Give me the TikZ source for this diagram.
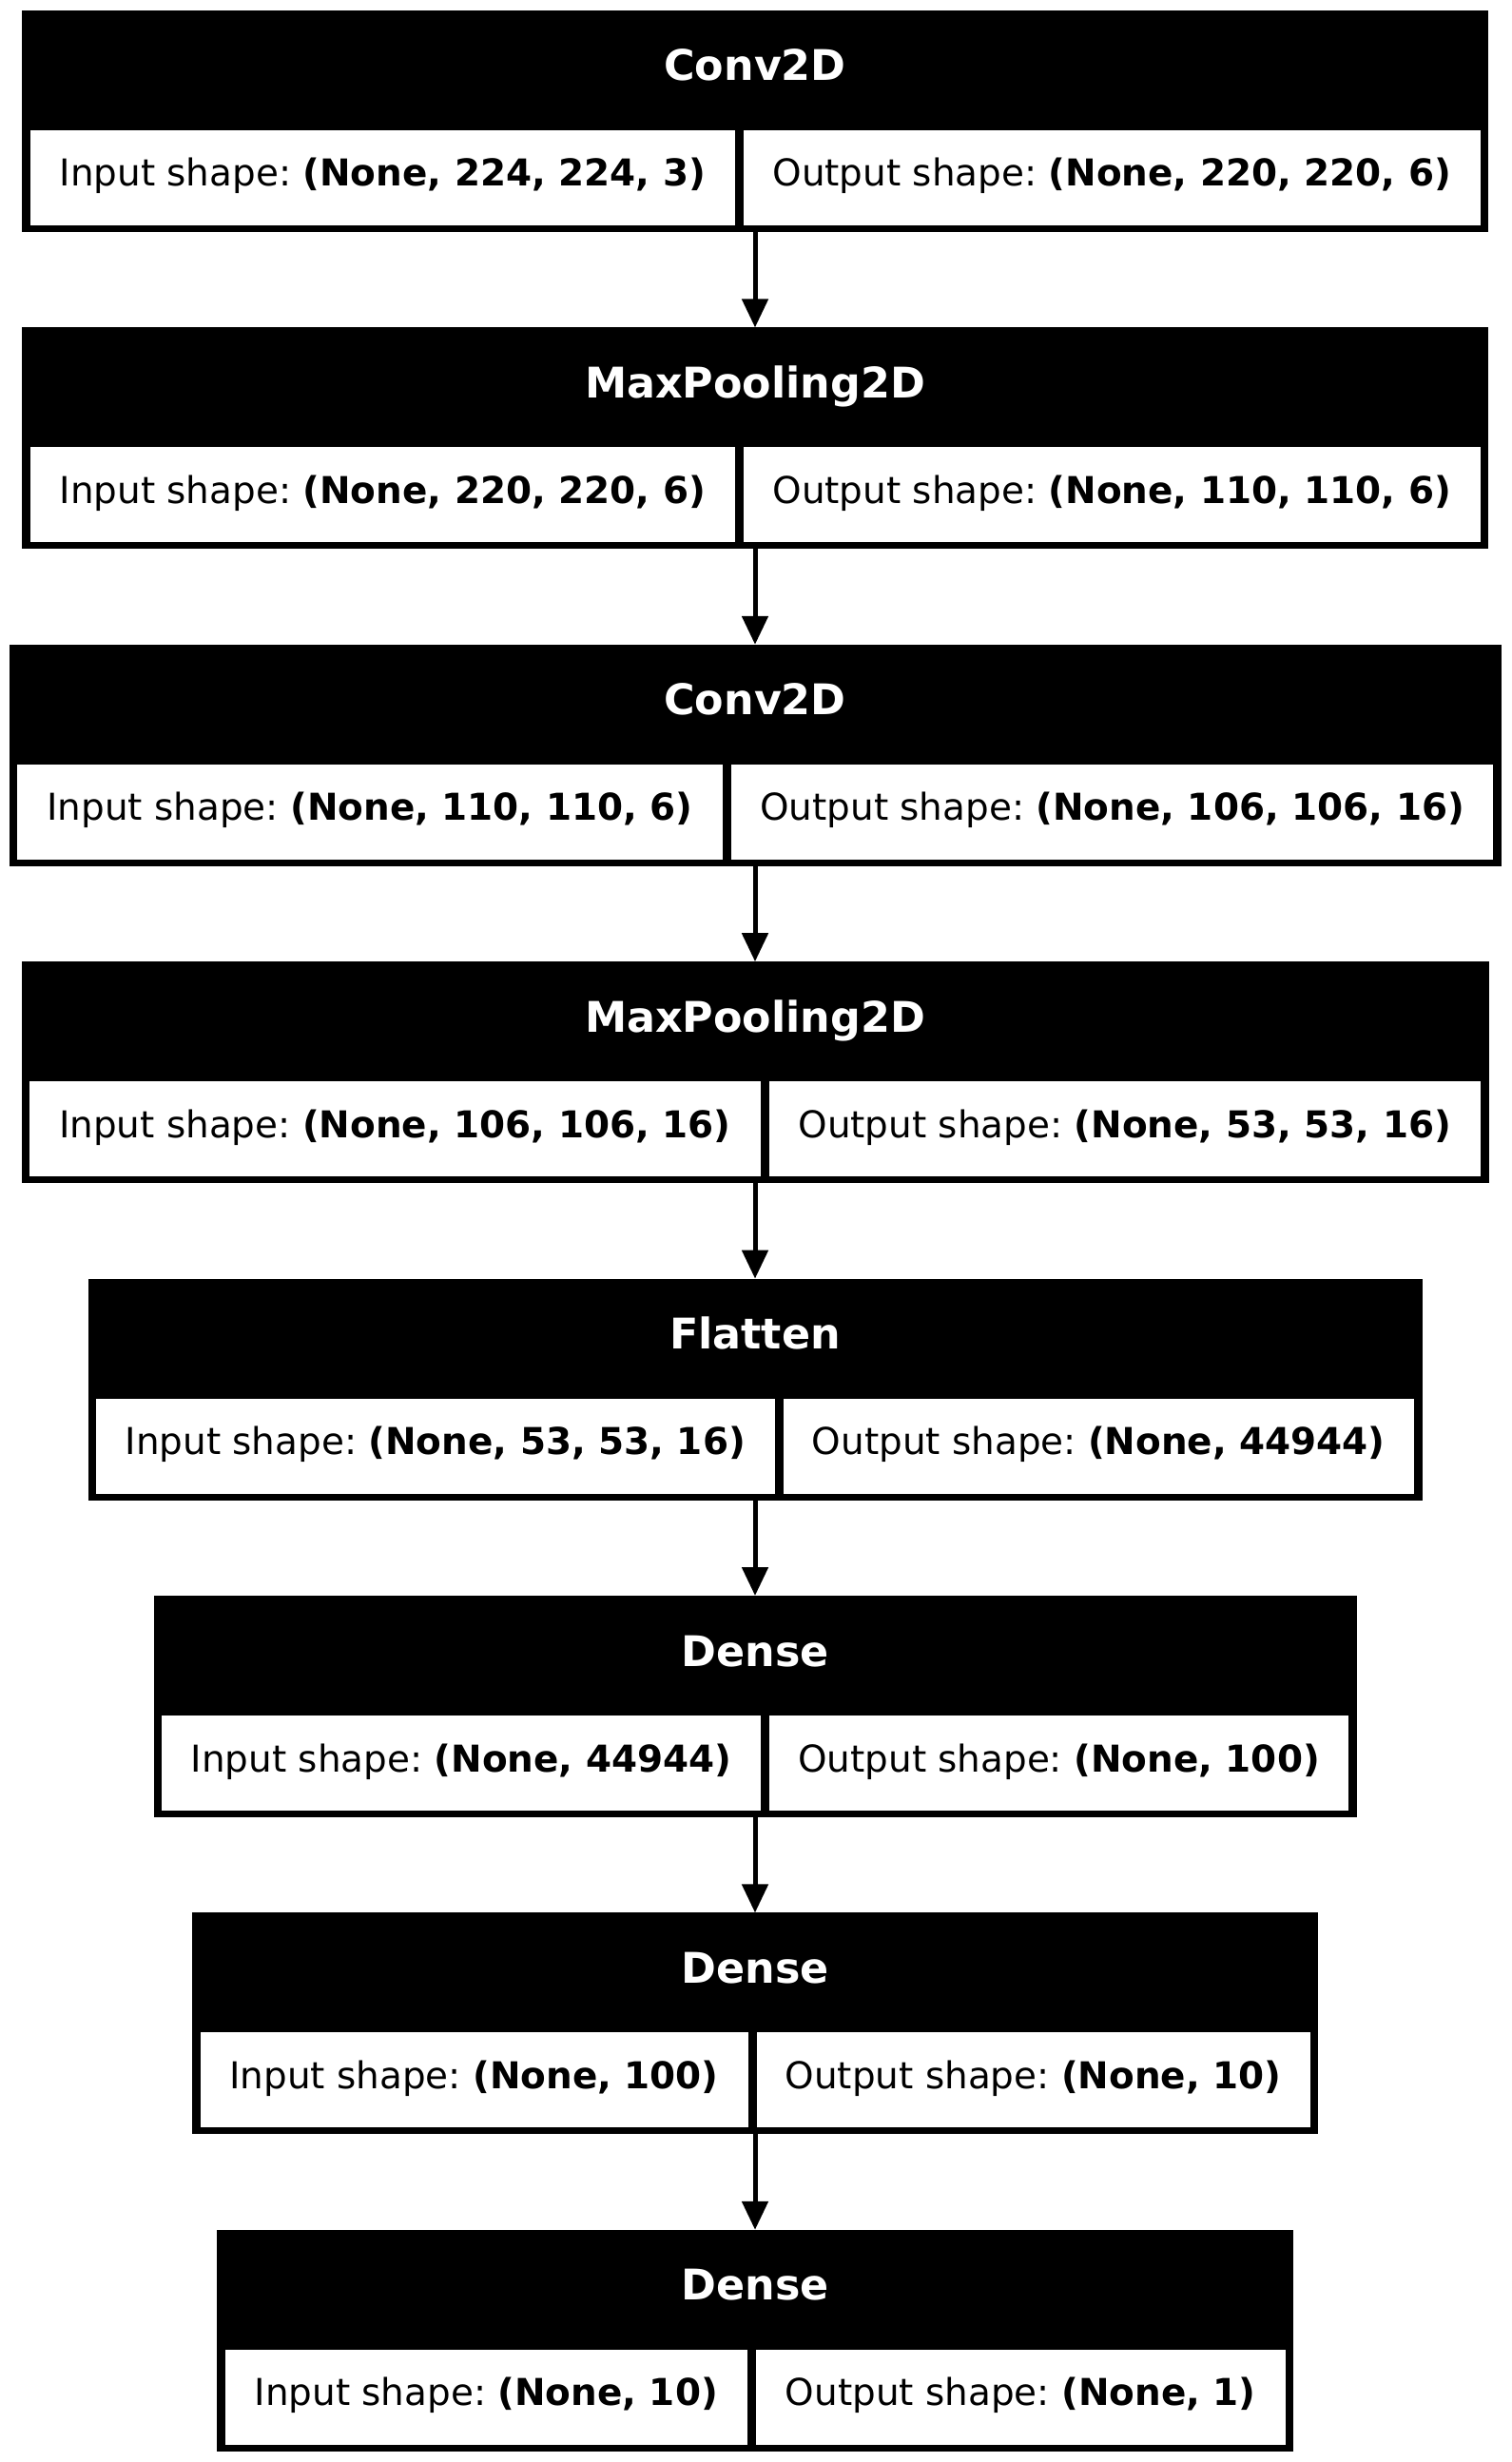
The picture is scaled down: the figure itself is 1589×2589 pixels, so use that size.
\documentclass[tikz,border=0pt]{standalone}
\usepackage{fontspec}
\setmainfont{DejaVu Sans}
\frenchspacing
\usetikzlibrary{arrows.meta}
\tikzset{
  blockbox/.style={fill=black, draw=none, inner sep=0pt, outer sep=0pt, minimum height=116.5pt},
  cellbox/.style={fill=white, draw=none, inner sep=0pt, outer sep=0pt, minimum height=50pt},
  titletext/.style={text=white, font=\fontsize{22.2pt}{26pt}\selectfont\bfseries, inner sep=0pt, anchor=base},
  celltext/.style={text=black, font=\fontsize{19.45pt}{23pt}\selectfont, inner sep=0pt, anchor=base},
  flow/.style={draw=black, line width=2.5pt, -{Triangle[length=15pt,width=13.5pt]}},
}
\newcommand\mylayer[7]{%
  \pgfmathsetmacro\lyT{#2}%
  \pgfmathsetmacro\lyL{794-#3/2}%
  \pgfmathsetmacro\lyR{794+#3/2}%
  \pgfmathsetmacro\lyInW{(#4-4.5-\lyL-8.5)*0.5}%
  \pgfmathsetmacro\lyOutW{(\lyR-8.5-#4-4.5)*0.5}%
  \pgfmathsetmacro\lyInX{(\lyL+8.5+#4-4.5)/2}%
  \pgfmathsetmacro\lyOutX{(#4+4.5+\lyR-8.5)/2}%
  \node[blockbox, minimum width={#3*0.5pt}] (#1) at (794, {\lyT+116.5}) {};
  \node[titletext] (#1-title) at (794, {\lyT+74}) {#5};
  \node[cellbox, minimum width={\lyInW pt}] (#1-in) at (\lyInX, {\lyT+176}) {};
  \node[cellbox, minimum width={\lyOutW pt}] (#1-out) at (\lyOutX, {\lyT+176}) {};
  \node[celltext] (#1-intext) at (\lyInX, {\lyT+185}) {Input shape: \textbf{#6}};
  \node[celltext] (#1-outtext) at (\lyOutX, {\lyT+185}) {Output shape: \textbf{#7}};
}
\begin{document}
\begin{tikzpicture}[x=0.5pt, y=-0.5pt]
  \useasboundingbox (0,0) rectangle (1589,2589);
  \fill[white] (0,0) rectangle (1589,2589);
  \mylayer{L1}{11}{1542}{777.5}{Conv2D}{(None, 224, 224, 3)}{(None, 220, 220, 6)}
  \mylayer{L2}{344.4}{1542}{777.5}{MaxPooling2D}{(None, 220, 220, 6)}{(None, 110, 110, 6)}
  \mylayer{L3}{677.8}{1569}{764.5}{Conv2D}{(None, 110, 110, 6)}{(None, 106, 106, 16)}
  \mylayer{L4}{1011.2}{1543}{804}{MaxPooling2D}{(None, 106, 106, 16)}{(None, 53, 53, 16)}
  \mylayer{L5}{1344.6}{1403}{819}{Flatten}{(None, 53, 53, 16)}{(None, 44944)}
  \mylayer{L6}{1678}{1265}{804.5}{Dense}{(None, 44944)}{(None, 100)}
  \mylayer{L7}{2011.4}{1184}{791}{Dense}{(None, 100)}{(None, 10)}
  \mylayer{L8}{2344.8}{1132}{790.5}{Dense}{(None, 10)}{(None, 1)}
  \draw[flow] (L1.south) -- (L2.north);
  \draw[flow] (L2.south) -- (L3.north);
  \draw[flow] (L3.south) -- (L4.north);
  \draw[flow] (L4.south) -- (L5.north);
  \draw[flow] (L5.south) -- (L6.north);
  \draw[flow] (L6.south) -- (L7.north);
  \draw[flow] (L7.south) -- (L8.north);
\end{tikzpicture}
\end{document}
